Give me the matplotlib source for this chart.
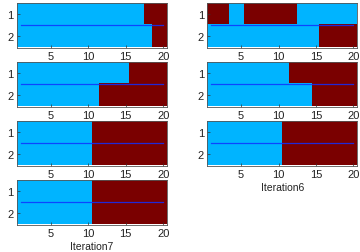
import matplotlib
matplotlib.use("Agg")
import matplotlib.pyplot as plt
from matplotlib.colors import ListedColormap
import numpy as np

# Each iteration: 2 rows x 20 columns, 0 = blue, 1 = dark red
iter1_row1 = [0,0,0,0,0,0,0,0,0,0,0,0,0,0,0,0,0,1,1,1]
iter1_row2 = [0,0,0,0,0,0,0,0,0,0,0,0,0,0,0,0,0,0,1,1]
iter2_row1 = [1,1,1,0,0,1,1,1,1,1,1,1,0,0,0,0,0,0,0,0]
iter2_row2 = [0,0,0,0,0,0,0,0,0,0,0,0,0,0,0,1,1,1,1,1]
iter3_row1 = [0,0,0,0,0,0,0,0,0,0,0,0,0,0,0,1,1,1,1,1]
iter3_row2 = [0,0,0,0,0,0,0,0,0,0,0,1,1,1,1,1,1,1,1,1]
iter4_row1 = [0,0,0,0,0,0,0,0,0,0,0,1,1,1,1,1,1,1,1,1]
iter4_row2 = [0,0,0,0,0,0,0,0,0,0,0,0,0,0,1,1,1,1,1,1]
iter5_row1 = [0,0,0,0,0,0,0,0,0,0,1,1,1,1,1,1,1,1,1,1]
iter5_row2 = [0,0,0,0,0,0,0,0,0,0,1,1,1,1,1,1,1,1,1,1]
iter6_row1 = [0,0,0,0,0,0,0,0,0,0,1,1,1,1,1,1,1,1,1,1]
iter6_row2 = [0,0,0,0,0,0,0,0,0,0,1,1,1,1,1,1,1,1,1,1]
iter7_row1 = [0,0,0,0,0,0,0,0,0,0,1,1,1,1,1,1,1,1,1,1]
iter7_row2 = [0,0,0,0,0,0,0,0,0,0,1,1,1,1,1,1,1,1,1,1]

iterations = [
    [iter1_row1, iter1_row2],
    [iter2_row1, iter2_row2],
    [iter3_row1, iter3_row2],
    [iter4_row1, iter4_row2],
    [iter5_row1, iter5_row2],
    [iter6_row1, iter6_row2],
    [iter7_row1, iter7_row2],
]
labels = ["Iteration1", "Iteration2", "Iteration3", "Iteration4",
          "Iteration5", "Iteration6", "Iteration7"]

line_x = [1, 20]
line_y = [1.5, 1.5]
x_ticks = [5, 10, 15, 20]
y_ticks = [1, 2]

plt.rcParams['font.family'] = ['Liberation Sans', 'DejaVu Sans']
W, H = 360, 253
fig = plt.figure(figsize=(W/100, H/100), dpi=100)
cmap = ListedColormap(['#00B4FF', '#7A0000'])

col_x = [(17, 150), (207.5, 149.5)]
row_top = [4, 63, 122, 181]
ax_h = 44.5

for i, data in enumerate(iterations):
    r, c = divmod(i, 2)
    x0, w = col_x[c]
    top = row_top[r]
    ax = fig.add_axes([x0/W, (H - top - ax_h)/H, w/W, ax_h/H])
    ax.imshow(np.array(data), cmap=cmap, vmin=0, vmax=1, aspect='auto',
              interpolation='nearest', extent=(0.5, 20.5, 2.5, 0.5))
    ax.plot(line_x, line_y, color='#1030FF', linewidth=0.9, alpha=0.85)
    ax.set_xlim(0.5, 20.5)
    ax.set_ylim(2.5, 0.5)
    ax.set_xticks(x_ticks)
    ax.set_yticks(y_ticks)
    ax.tick_params(direction='in', length=2, width=0.5, labelsize=8,
                   pad=2.5, colors='#333333', labelcolor='#222222')
    for s in ax.spines.values():
        s.set_linewidth(0.6)
        s.set_color('#555555')
    ax.set_xlabel(labels[i], fontsize=7.5, labelpad=2.5, color='#222222')
    ax.set_zorder(r + 1)

fig.savefig("out.png", dpi=100)
